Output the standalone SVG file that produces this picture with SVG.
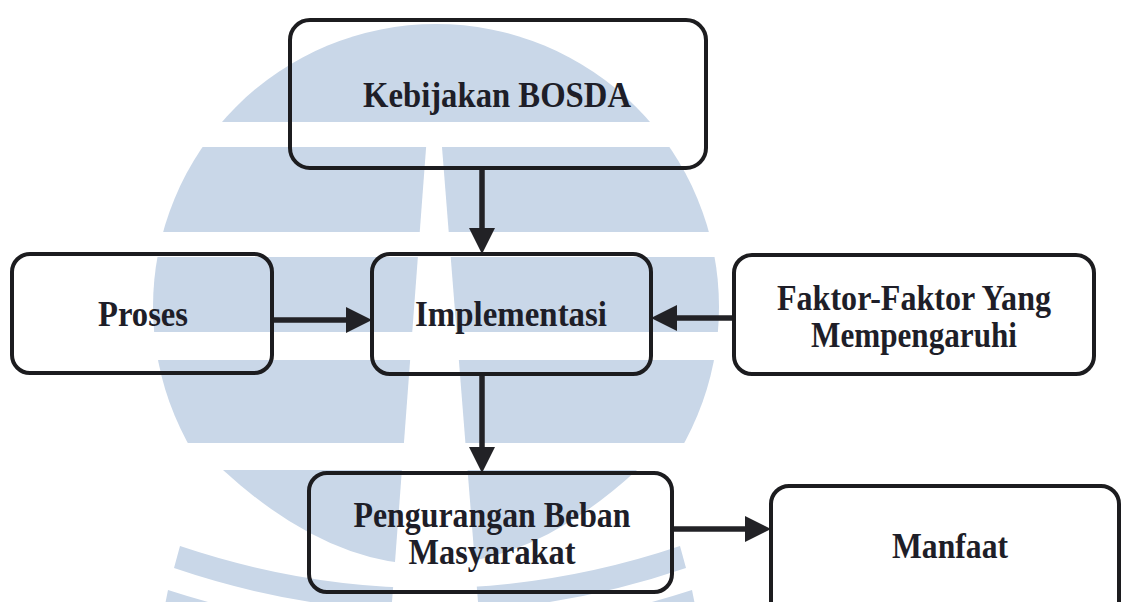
<svg xmlns="http://www.w3.org/2000/svg" width="1122" height="602" viewBox="0 0 1122 602">
  <style>
    .box { fill: none; stroke: #1c1c1f; stroke-width: 4; }
    .lbl { font-family: "Liberation Serif", "Times New Roman", serif; font-weight: bold; font-size: 35px; fill: #1e1e28; text-anchor: middle; }
    .conn { stroke: #222226; stroke-width: 5.5; fill: none; }
    .wm { fill: #c9d7e8; }
    .gap { fill: #ffffff; }
  </style>
  <defs>
    <clipPath id="upper"><rect x="0" y="0" width="1122" height="443"/></clipPath>
    <marker id="ah" markerUnits="userSpaceOnUse" markerWidth="26" markerHeight="26" viewBox="0 0 26 26" refX="15" refY="13" orient="auto">
      <path d="M0,0 L26,13 L0,26 Z" fill="#222226"/>
    </marker>
  </defs>
  <rect x="0" y="0" width="1122" height="602" fill="#ffffff"/>

  <g id="watermark">
    <circle class="wm" cx="436" cy="307" r="283" clip-path="url(#upper)"/>
    <path class="wm" d="M223 470 L637 470 Q430 660 223 470 Z"/>
    <path class="wm" d="M180 546 Q430 630 680 546 L686 568 Q430 655 174 568 Z"/>
    <path class="wm" d="M168 590 Q430 675 692 590 L698 620 L162 620 Z"/>
    <rect class="gap" x="0" y="122" width="1122" height="25"/>
    <rect class="gap" x="0" y="232" width="1122" height="25"/>
    <rect class="gap" x="0" y="332" width="1122" height="28"/>
    <polygon class="gap" points="428,122 440,122 478,602 392,602"/>
  </g>

  <g id="connectors">
    <line class="conn" x1="482" y1="168" x2="482" y2="243" marker-end="url(#ah)"/>
    <line class="conn" x1="272" y1="320" x2="361" y2="320" marker-end="url(#ah)"/>
    <line class="conn" x1="734" y1="318" x2="662" y2="318" marker-end="url(#ah)"/>
    <line class="conn" x1="482" y1="374" x2="482" y2="462" marker-end="url(#ah)"/>
    <line class="conn" x1="672" y1="529" x2="760" y2="529" marker-end="url(#ah)"/>
  </g>

  <g id="node-kebijakan">
    <rect class="box" x="290" y="20" width="416" height="148" rx="20"/>
    <text class="lbl" x="497" y="107" textLength="268" lengthAdjust="spacingAndGlyphs">Kebijakan BOSDA</text>
  </g>
  <g id="node-proses">
    <rect class="box" x="12" y="254" width="260" height="119" rx="18"/>
    <text class="lbl" x="143" y="326" textLength="90" lengthAdjust="spacingAndGlyphs">Proses</text>
  </g>
  <g id="node-implementasi">
    <rect class="box" x="372" y="254" width="279" height="120" rx="18"/>
    <text class="lbl" x="511" y="326" textLength="192" lengthAdjust="spacingAndGlyphs">Implementasi</text>
  </g>
  <g id="node-faktor">
    <rect class="box" x="734" y="255" width="360" height="119" rx="18"/>
    <text class="lbl" x="914" y="310" textLength="274" lengthAdjust="spacingAndGlyphs">Faktor-Faktor Yang</text>
    <text class="lbl" x="914" y="347" textLength="206" lengthAdjust="spacingAndGlyphs">Mempengaruhi</text>
  </g>
  <g id="node-pengurangan">
    <rect class="box" x="309" y="473" width="363" height="119" rx="18"/>
    <text class="lbl" x="492" y="527" textLength="277" lengthAdjust="spacingAndGlyphs">Pengurangan Beban</text>
    <text class="lbl" x="492" y="564" textLength="167" lengthAdjust="spacingAndGlyphs">Masyarakat</text>
  </g>
  <g id="node-manfaat">
    <rect class="box" x="771" y="486" width="348" height="140" rx="18"/>
    <text class="lbl" x="950" y="558" textLength="116" lengthAdjust="spacingAndGlyphs">Manfaat</text>
  </g>
</svg>
